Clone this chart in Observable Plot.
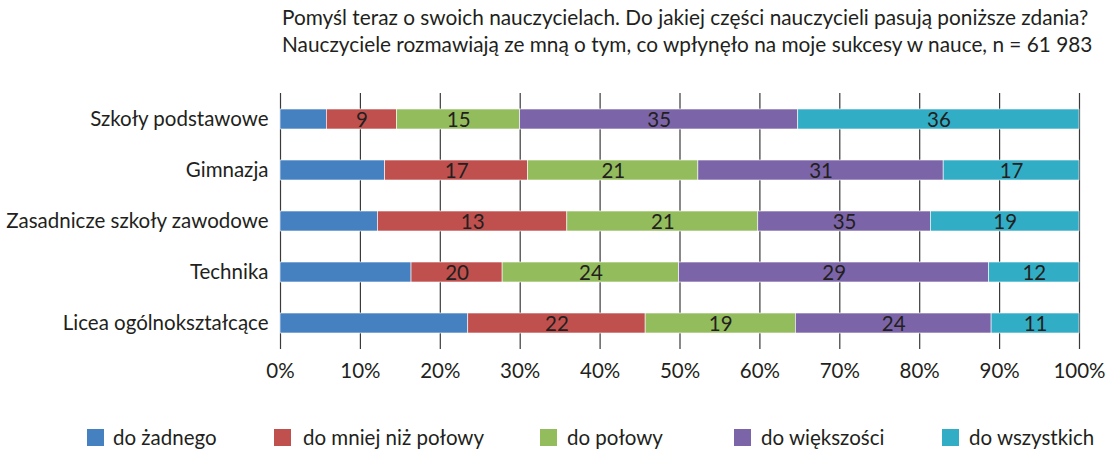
<!DOCTYPE html>
<html>
<head>
<meta charset="utf-8">
<script src="https://cdn.jsdelivr.net/npm/d3@7"></script>
<script src="https://cdn.jsdelivr.net/npm/@observablehq/plot@0.6"></script>
<style>
  html, body { margin: 0; padding: 0; background: #fff; }
  body { width: 1109px; height: 453px; position: relative; overflow: hidden; font-family: Lato, sans-serif; color: #231f20; }
  #title { position: absolute; left: 282px; top: 3px; font-size: 20.8px; line-height: 27px; white-space: nowrap; }
  #chart { position: absolute; left: 0; top: 60px; }
  #legend { position: absolute; top: 428px; left: 0; width: 1109px; height: 20px; font-size: 20.5px; }
  .item { position: absolute; top: 0; white-space: nowrap; }
  .sw { position: absolute; top: 1px; width: 17px; height: 17px; }
  .lb { position: absolute; top: -3px; line-height: 24px; }
</style>
</head>
<body>
<div id="title"></div>
<div id="chart"></div>
<div id="legend"></div>
<script>
const titleLines = [
  "Pomyśl teraz o swoich nauczycielach. Do jakiej części nauczycieli pasują poniższe zdania?",
  "Nauczyciele rozmawiają ze mną o tym, co wpłynęło na moje sukcesy w nauce, n = 61 983"
];
const schools = ["Szkoły podstawowe", "Gimnazja", "Zasadnicze szkoły zawodowe", "Technika", "Licea ogólnokształcące"];
const categories = ["do żadnego", "do mniej niż połowy", "do połowy", "do większości", "do wszystkich"];
const colors = ["#4580c0", "#c0504d", "#93bc5d", "#7b65a8", "#32adc6"];
// bar widths (percent) as drawn
const szkolyPodstawowe = [5.8, 8.8, 15.4, 34.8, 35.2];
const gimnazja = [13.1, 17.9, 21.3, 30.7, 17.0];
const zasadnicze = [12.2, 23.7, 23.9, 21.6, 18.6];
const technika = [16.4, 11.4, 22.1, 38.8, 11.3];
const licea = [23.5, 22.2, 18.8, 24.5, 11.0];
// printed labels
const labelsPodstawowe = ["", "9", "15", "35", "36"];
const labelsGimnazja = ["", "17", "21", "31", "17"];
const labelsZasadnicze = ["", "13", "21", "35", "19"];
const labelsTechnika = ["", "20", "24", "29", "12"];
const labelsLicea = ["", "22", "19", "24", "11"];
const xTicks = [0, 10, 20, 30, 40, 50, 60, 70, 80, 90, 100];

const seriesValues = [szkolyPodstawowe, gimnazja, zasadnicze, technika, licea];
const seriesLabels = [labelsPodstawowe, labelsGimnazja, labelsZasadnicze, labelsTechnika, labelsLicea];
const data = [];
schools.forEach((s, i) => categories.forEach((c, j) => {
  data.push({school: s, cat: c, value: seriesValues[i][j], label: seriesLabels[i][j]});
}));

document.getElementById("title").innerHTML = titleLines.map(t => `<div>${t}</div>`).join("");

const font = "Lato, sans-serif";
const chart = Plot.plot({
  width: 1109,
  height: 330,
  marginTop: 33,
  marginBottom: 41,
  marginLeft: 280,
  marginRight: 30,
  style: {fontFamily: font, fontSize: "20px", color: "#231f20", background: "transparent"},
  x: {domain: [0, 100], label: null},
  y: {domain: schools, paddingInner: 0.6, paddingOuter: 0.3, label: null},
  color: {domain: categories, range: colors},
  marks: [
    Plot.ruleX(xTicks, {x: d => d, stroke: "#3a3a3a", strokeWidth: 1.2}),
    Plot.barX(data, Plot.stackX({x: "value", y: "school", fill: "cat", z: "cat", order: categories, stroke: "white", strokeWidth: 0.6})),
    Plot.text(data, Plot.stackX({x: "value", y: "school", z: "cat", order: categories, text: "label", fill: "#231f20", fontSize: 20.5, dy: 1})),
    Plot.axisX(xTicks, {anchor: "bottom", tickSize: 0, tickPadding: 14, tickFormat: d => d + "%", fontSize: 20.5, fill: "#231f20", label: null}),
    Plot.axisY({tickSize: 0, tickPadding: 12, fontSize: 20.5, fill: "#231f20", label: null})
  ]
});
document.getElementById("chart").appendChild(chart);

const legendX = [87, 274, 540, 734, 942];
const legend = document.getElementById("legend");
categories.forEach((c, i) => {
  const item = document.createElement("div");
  item.className = "item";
  item.style.left = legendX[i] + "px";
  item.innerHTML = `<div class="sw" style="background:${colors[i]}"></div><div class="lb" style="left:${i === 0 ? 26 : (i === 1 ? 29 : 27)}px">${c}</div>`;
  legend.appendChild(item);
});
</script>
</body>
</html>
